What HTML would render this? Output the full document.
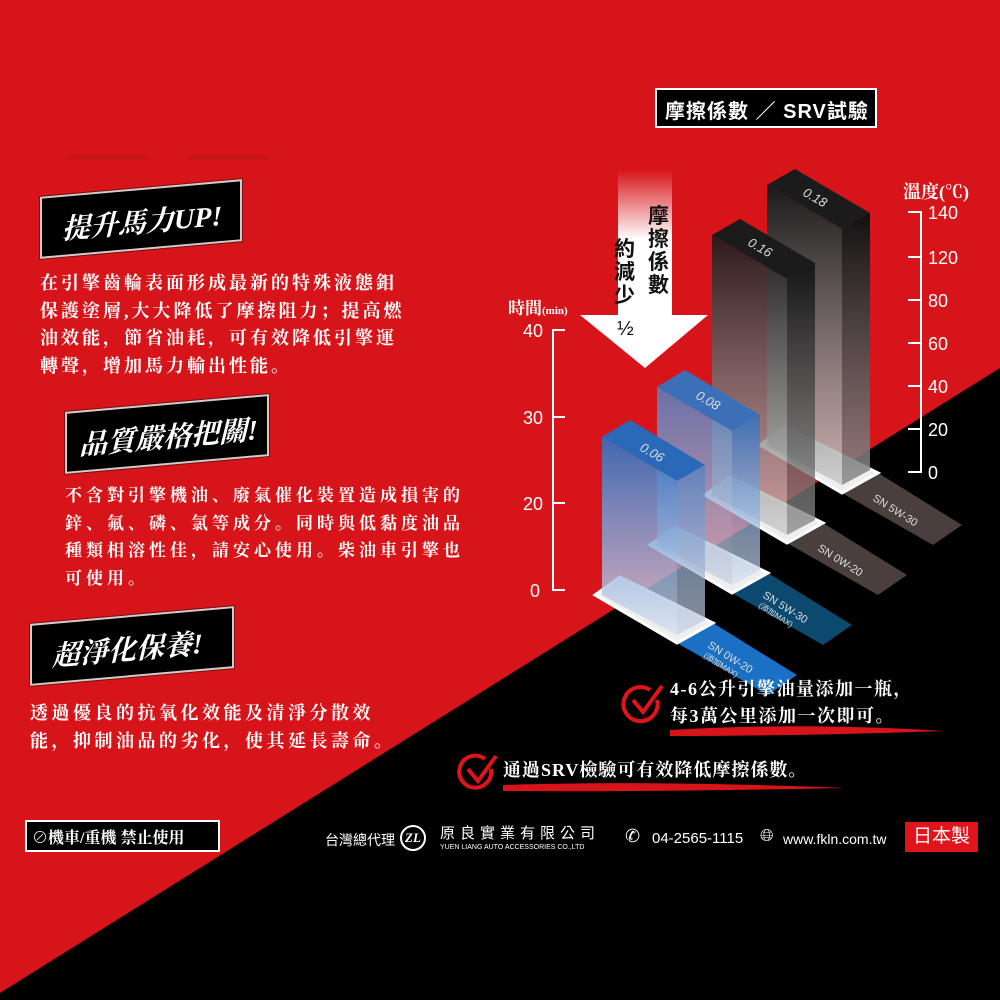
<!DOCTYPE html>
<html><head><meta charset="utf-8"><style>
html,body{margin:0;padding:0}
body{width:1000px;height:1000px;position:relative;overflow:hidden;background:#d7141a;font-family:"Liberation Serif","Noto Serif CJK SC",serif;color:#fff}
.abs{position:absolute;white-space:nowrap}
.p{font-weight:bold;font-size:18px;letter-spacing:3px;line-height:27.5px}
.ban{position:absolute;background:#000;border:2px solid #d9c9c9;box-shadow:0 0 0 1px #7a1010}
.ban span{position:absolute;white-space:nowrap;font-style:italic;font-weight:bold;font-size:28px;letter-spacing:0px;color:#fff}
.sans{font-family:"Liberation Sans","Noto Sans CJK TC",sans-serif}
</style></head><body>
<svg class="abs" style="left:0;top:0" width="1000" height="1000">
<polygon points="1000,368 1000,1000 0,1000 0,993" fill="#000"/>
<defs>
<linearGradient id="gd" x1="0" y1="0" x2="0" y2="1"><stop offset="0" stop-color="#1a1a1a"/><stop offset="1" stop-color="#c9c9c9" stop-opacity=".85"/></linearGradient>
<linearGradient id="gd2" x1="0" y1="0" x2="0" y2="1"><stop offset="0" stop-color="#111"/><stop offset="1" stop-color="#8a8a8a" stop-opacity=".85"/></linearGradient>
<linearGradient id="gb" x1="0" y1="0" x2="0" y2="1"><stop offset="0" stop-color="#2f6fc0"/><stop offset="1" stop-color="#d6dff0" stop-opacity=".85"/></linearGradient>
<linearGradient id="gb2" x1="0" y1="0" x2="0" y2="1"><stop offset="0" stop-color="#5580c0"/><stop offset="1" stop-color="#c8d0e0" stop-opacity=".85"/></linearGradient>
<linearGradient id="ga" x1="0" y1="0" x2="0" y2="1"><stop offset="0" stop-color="#d7141a"/><stop offset=".35" stop-color="#fff"/><stop offset="1" stop-color="#fff"/></linearGradient>
</defs>
<g>
<polygon points="842,493 878,473 962,525 933,545" fill="#4a3f3c"/>
<polygon points="787,543 823,523 907,575 878,595" fill="#4a3f3c"/>
<polygon points="732,593 768,573 852,625 823,645" fill="#0b4a6e"/>
<polygon points="677,643 713,623 797,675 768,695" fill="#1a70c4"/>
</g>
<g font-family="Liberation Sans,sans-serif" font-size="11" fill="#ddd">
<text transform="translate(872,500) rotate(32)">SN 5W-30</text>
<text transform="translate(817,550) rotate(32)">SN 0W-20</text>
<text transform="translate(762,597) rotate(32)">SN 5W-30</text>
<text transform="translate(758,607) rotate(32)" font-size="8">(添加MAX)</text>
<text transform="translate(707,647) rotate(32)">SN 0W-20</text>
<text transform="translate(703,657) rotate(32)" font-size="8">(添加MAX)</text>
</g>
<g>
<polygon points="760,445 785,427 878,473 842,493" fill="#eee" stroke="#fff" stroke-width="3"/>
<polygon points="767,185 795,169 870,213 842,229" fill="#1b1b1b"/>
<polygon points="767,185 842,229 842,485 767,445" fill="url(#gd)"/>
<polygon points="842,229 870,213 870,470 842,485" fill="url(#gd2)"/>
</g>
<g transform="translate(-55,50)">
<polygon points="760,445 785,427 878,473 842,493" fill="#eee" stroke="#fff" stroke-width="3"/>
<polygon points="767,185 795,169 870,213 842,229" fill="#1b1b1b"/>
<polygon points="767,185 842,229 842,485 767,445" fill="url(#gd)" opacity=".9"/>
<polygon points="842,229 870,213 870,470 842,485" fill="url(#gd2)" opacity=".9"/>
</g>
<g transform="translate(-110,100)">
<polygon points="760,445 785,427 878,473 842,493" fill="#eee" stroke="#fff" stroke-width="3"/>
<polygon points="767,287 795,270 870,315 842,331" fill="#3b6fb8"/>
<polygon points="767,287 842,331 842,485 767,445" fill="url(#gb2)" opacity=".85"/>
<polygon points="842,331 870,315 870,470 842,485" fill="url(#gb)" opacity=".8"/>
</g>
<g transform="translate(-165,150)">
<polygon points="760,445 785,427 878,473 842,493" fill="#eee" stroke="#fff" stroke-width="3"/>
<polygon points="767,287 795,270 870,315 842,331" fill="#2a68b8"/>
<polygon points="767,287 842,331 842,485 767,445" fill="url(#gb)" opacity=".9"/>
<polygon points="842,331 870,315 870,470 842,485" fill="url(#gb2)" opacity=".8"/>
</g>
<g font-family="Liberation Sans,sans-serif" font-style="italic" font-size="13" fill="#ddd">
<text transform="translate(802,195) rotate(30)">0.18</text>
<text transform="translate(747,245) rotate(30)">0.16</text>
<text transform="translate(695,398) rotate(30)">0.08</text>
<text transform="translate(639,450) rotate(30)">0.06</text>
</g>
<polygon points="618,170 672,170 672,315 708,315 645,368 580,315 618,315" fill="url(#ga)"/>
<g stroke="#fff" stroke-width="2" fill="none">
<polyline points="565,330 553,330 553,590 565,590"/>
<line x1="553" y1="417" x2="565" y2="417"/><line x1="553" y1="503" x2="565" y2="503"/>
<polyline points="908,212 921,212 921,472 908,472"/>
<line x1="908" y1="257" x2="921" y2="257"/><line x1="908" y1="300" x2="921" y2="300"/><line x1="908" y1="343" x2="921" y2="343"/><line x1="908" y1="386" x2="921" y2="386"/><line x1="908" y1="429" x2="921" y2="429"/>
</g>
<g font-family="Liberation Sans,sans-serif" font-size="18" fill="#fff">
<text x="523" y="337">40</text><text x="523" y="424">30</text><text x="523" y="510">20</text><text x="530" y="597">0</text>
<text x="928" y="219">140</text><text x="928" y="264">120</text><text x="928" y="307">80</text><text x="928" y="350">60</text><text x="928" y="393">40</text><text x="928" y="436">20</text><text x="928" y="479">0</text>
</g>
<g fill="none" stroke="#e0141a" stroke-width="4">
<path d="M650,690 A17,17 0 1 0 657,700"/><path d="M633,700 L643,712 L662,686"/>
<path d="M485,759 A16,16 0 1 0 491,769"/><path d="M468,769 L478,781 L496,756"/>
</g>
<path d="M670,730 Q800,722 945,731 Q800,736 670,736Z" fill="#d7141a"/>
<path d="M503,785 Q650,780 845,788 Q650,792 503,791Z" fill="#d7141a"/>
<rect x="68" y="155" width="80" height="5" fill="#c81319"/><rect x="190" y="155" width="80" height="5" fill="#c81319"/>
</svg>

<div class="abs" style="left:655px;top:88px;width:222px;height:40px;background:#000;border:2px solid #fff;box-sizing:border-box"></div>
<div class="abs sans" style="left:665px;top:95px;font-size:20px;font-weight:bold;letter-spacing:1px">摩擦係數 ／ SRV試驗</div>
<div class="abs" style="left:903px;top:178px;font-size:18px;font-weight:bold">溫度(℃)</div>
<div class="abs" style="left:508px;top:294px;font-size:17px;font-weight:bold">時間<span style="font-size:11px">(min)</span></div>
<div class="abs sans" style="left:648px;top:205px;font-size:21px;font-weight:bold;color:#111;line-height:23px;width:24px;white-space:normal">摩擦係數</div>
<div class="abs sans" style="left:614px;top:238px;font-size:21px;font-weight:bold;color:#111;line-height:23px;width:24px;white-space:normal">約減少</div>
<div class="abs sans" style="left:617px;top:318px;font-size:20px;color:#111">½</div>

<div class="ban" style="left:40px;top:188px;width:198px;height:58px;transform:skewY(-5deg)"><span style="left:20px;top:11px">提升馬力UP!</span></div>
<div class="abs p" style="left:40px;top:270px">在引擎齒輪表面形成最新的特殊液態鉬<br>保護塗層,大大降低了摩擦阻力；提高燃<br>油效能，節省油耗，可有效降低引擎運<br>轉聲，增加馬力輸出性能。</div>

<div class="ban" style="left:65px;top:403px;width:200px;height:58px;transform:skewY(-5deg)"><span style="left:12px;top:11px">品質嚴格把關!</span></div>
<div class="abs p" style="left:65px;top:482px;font-size:17px;letter-spacing:4px">不含對引擎機油、廢氣催化裝置造成損害的<br>鋅、氟、磷、氯等成分。同時與低黏度油品<br>種類相溶性佳，請安心使用。柴油車引擎也<br>可使用。</div>

<div class="ban" style="left:30px;top:615px;width:200px;height:58px;transform:skewY(-5deg)"><span style="left:20px;top:11px">超淨化保養!</span></div>
<div class="abs p" style="left:30px;top:700px;letter-spacing:3.5px">透過優良的抗氧化效能及清淨分散效<br>能，抑制油品的劣化，使其延長壽命。</div>

<div class="abs p" style="left:670px;top:676px;letter-spacing:1.5px;line-height:27px">4-6公升引擎油量添加一瓶，<br>每3萬公里添加一次即可。</div>
<div class="abs p" style="left:503px;top:757px;letter-spacing:1px">通過SRV檢驗可有效降低摩擦係數。</div>

<div class="abs" style="left:25px;top:820px;width:195px;height:32px;background:#000;border:2px solid #fff;box-sizing:border-box"></div>
<div class="abs" style="left:32px;top:825px;font-size:16px;font-weight:bold">⊘機車/重機 禁止使用</div>

<div class="abs sans" style="left:325px;top:830px;font-size:14px">台灣總代理</div>
<div class="abs" style="left:400px;top:825px;width:22px;height:22px;border:2px solid #fff;border-radius:50%;font-size:13px;text-align:center;line-height:22px;font-style:italic;font-weight:bold">ZL</div>
<div class="abs sans" style="left:440px;top:822px;font-size:15px;letter-spacing:5px">原良實業有限公司</div>
<div class="abs sans" style="left:440px;top:844px;font-size:7px">YUEN LIANG AUTO ACCESSORIES CO.,LTD</div>
<div class="abs sans" style="left:625px;top:826px;font-size:18px">✆</div>
<div class="abs sans" style="left:652px;top:830px;font-size:15px">04-2565-1115</div>
<div class="abs sans" style="left:760px;top:826px;font-size:17px">🌐︎</div>
<div class="abs sans" style="left:783px;top:831px;font-size:14px">www.fkln.com.tw</div>
<div class="abs sans" style="left:905px;top:822px;width:73px;height:30px;background:#e0141a;font-size:19px;text-align:center;line-height:30px">日本製</div>
</body></html>
